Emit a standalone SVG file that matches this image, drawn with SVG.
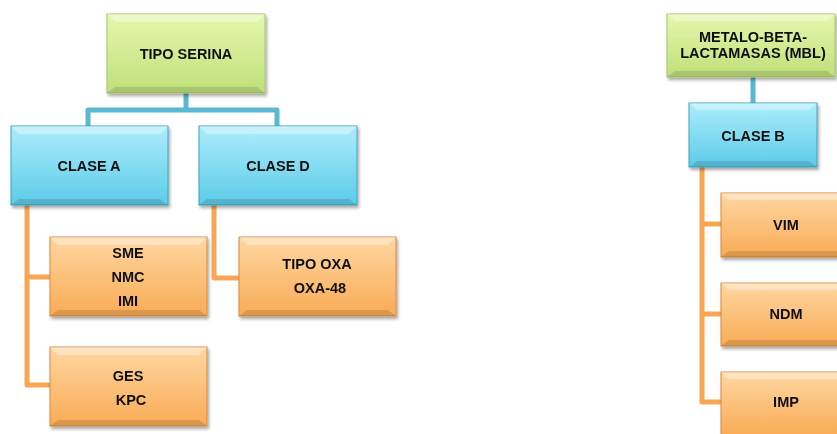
<svg xmlns="http://www.w3.org/2000/svg" width="837" height="434" viewBox="0 0 837 434">
<defs>
<linearGradient id="gG" x1="0" y1="0" x2="0" y2="1"><stop offset="0" stop-color="#e6f7ad"/><stop offset="1" stop-color="#bfe07a"/></linearGradient>
<linearGradient id="gB" x1="0" y1="0" x2="0" y2="1"><stop offset="0" stop-color="#acedfc"/><stop offset="1" stop-color="#5ccbe8"/></linearGradient>
<linearGradient id="gO" x1="0" y1="0" x2="0" y2="1"><stop offset="0" stop-color="#fed7a2"/><stop offset="1" stop-color="#f9ab55"/></linearGradient>
<filter id="sh" x="-10%" y="-10%" width="125%" height="130%"><feDropShadow dx="1.5" dy="2.5" stdDeviation="1.8" flood-color="#000" flood-opacity="0.35"/></filter>
</defs>
<style>
text{font-family:"Liberation Sans",Arial,sans-serif;font-weight:bold;font-size:14.5px;fill:#111;text-anchor:middle}
.g{fill:url(#gG);stroke:#a9c46a;stroke-width:1}
.b{fill:url(#gB);stroke:#3ea3bd;stroke-width:1}
.o{fill:url(#gO);stroke:#d98a3c;stroke-width:1}
.cb{fill:none;stroke:#5ab8d0;stroke-width:5;stroke-linejoin:round}
.co{fill:none;stroke:#f9a654;stroke-width:5;stroke-linejoin:round}
.hl{fill:#fff;opacity:0.35}
.dk{fill:#000;opacity:0.12}
</style>
<rect width="837" height="434" fill="#fff"/>
<g id="connectors">
<path class="cb" d="M186 93 V110 M88 126 V110 H277 V126"/>
<path class="cb" d="M753 77 V103"/>
<path class="co" d="M27 205 V385 H50 M27 277 H50"/>
<path class="co" d="M214 205 V278 H239"/>
<path class="co" d="M702 167 V402 H721 M702 224 H721 M702 314 H721"/>
</g>
<g id="tipo-serina" filter="url(#sh)">
<rect class="g" x="107" y="14" width="158" height="79"/>
<polygon class="hl" points="107,14 265,14 257,22 115,22"/><polygon class="dk" points="107,93 265,93 257,87 115,87"/>
<text x="186" y="59">TIPO SERINA</text>
</g>
<g id="clase-a" filter="url(#sh)">
<rect class="b" x="11" y="126" width="157" height="79"/>
<polygon class="hl" points="11,126 168,126 160,134 19,134"/><polygon class="dk" points="11,205 168,205 160,199 19,199"/>
<text x="89" y="171">CLASE A</text>
</g>
<g id="clase-d" filter="url(#sh)">
<rect class="b" x="199" y="126" width="158" height="79"/>
<polygon class="hl" points="199,126 357,126 349,134 207,134"/><polygon class="dk" points="199,205 357,205 349,199 207,199"/>
<text x="278" y="171">CLASE D</text>
</g>
<g id="sme-nmc-imi" filter="url(#sh)">
<rect class="o" x="50" y="237" width="157" height="79"/>
<polygon class="hl" points="50,237 207,237 199,245 58,245"/><polygon class="dk" points="50,316 207,316 199,310 58,310"/>
<text x="128" y="258">SME</text><text x="128" y="282">NMC</text><text x="128" y="306">IMI</text>
</g>
<g id="ges-kpc" filter="url(#sh)">
<rect class="o" x="50" y="347" width="157" height="79"/>
<polygon class="hl" points="50,347 207,347 199,355 58,355"/><polygon class="dk" points="50,426 207,426 199,420 58,420"/>
<text x="128" y="381">GES</text><text x="131" y="405">KPC</text>
</g>
<g id="tipo-oxa" filter="url(#sh)">
<rect class="o" x="239" y="237" width="157" height="79"/>
<polygon class="hl" points="239,237 396,237 388,245 247,245"/><polygon class="dk" points="239,316 396,316 388,310 247,310"/>
<text x="317" y="269">TIPO OXA</text><text x="320" y="293">OXA-48</text>
</g>
<g id="mbl" filter="url(#sh)">
<rect class="g" x="667" y="14" width="168" height="63"/>
<polygon class="hl" points="667,14 835,14 827,21 675,21"/><polygon class="dk" points="667,77 835,77 827,71 675,71"/>
<text x="753" y="42">METALO-BETA-</text><text x="753" y="58">LACTAMASAS (MBL)</text>
</g>
<g id="clase-b" filter="url(#sh)">
<rect class="b" x="689" y="103" width="128" height="64"/>
<polygon class="hl" points="689,103 817,103 809,110 697,110"/><polygon class="dk" points="689,167 817,167 809,161 697,161"/>
<text x="753" y="141">CLASE B</text>
</g>
<g id="vim" filter="url(#sh)">
<rect class="o" x="721" y="193" width="130" height="64"/>
<polygon class="hl" points="721,193 851,193 843,200 729,200"/><polygon class="dk" points="721,257 851,257 843,251 729,251"/>
<text x="786" y="230">VIM</text>
</g>
<g id="ndm" filter="url(#sh)">
<rect class="o" x="721" y="283" width="130" height="63"/>
<polygon class="hl" points="721,283 851,283 843,290 729,290"/><polygon class="dk" points="721,346 851,346 843,340 729,340"/>
<text x="786" y="319">NDM</text>
</g>
<g id="imp" filter="url(#sh)">
<rect class="o" x="721" y="372" width="130" height="64"/>
<polygon class="hl" points="721,372 851,372 843,379 729,379"/>
<text x="786" y="407">IMP</text>
</g>
</svg>
